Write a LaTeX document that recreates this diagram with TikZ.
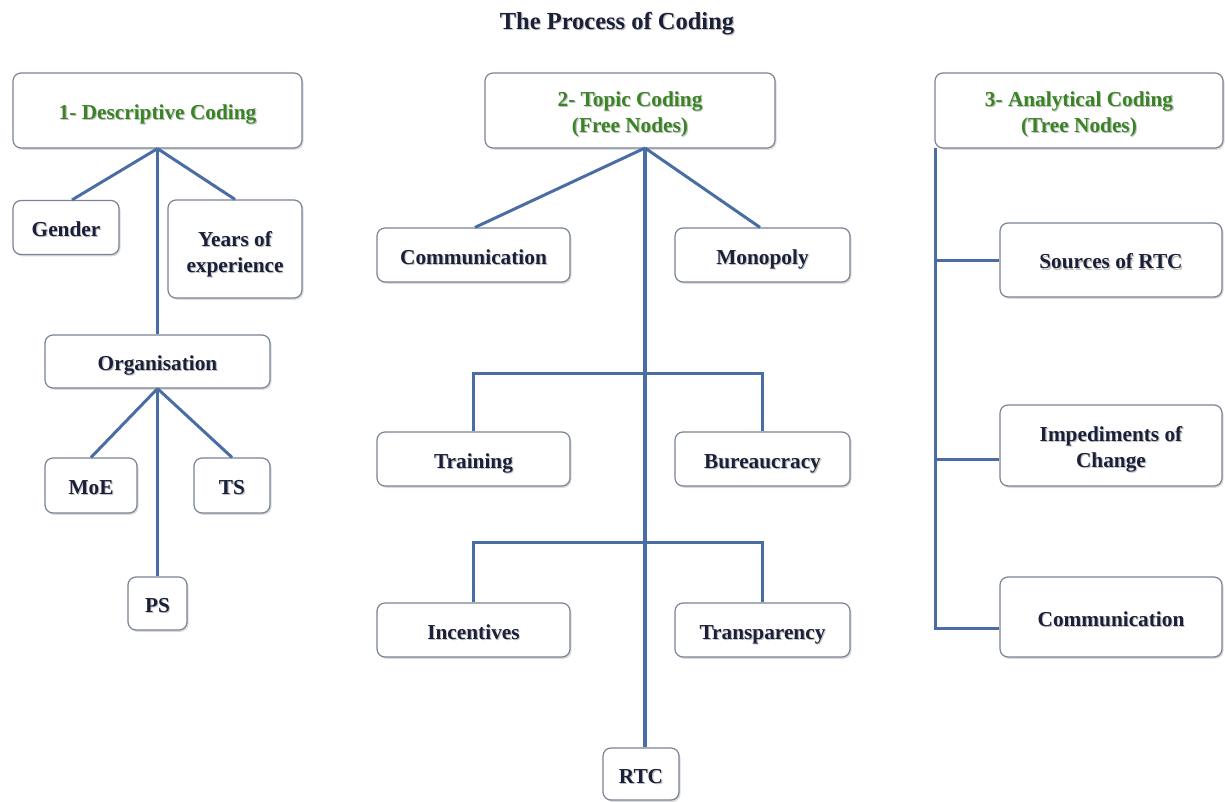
\documentclass[tikz,border=0pt]{standalone}
\usepackage{fontspec}
\setmainfont{Liberation Serif}[BoldFont={Liberation Serif Bold}]
\usetikzlibrary{shadows,calc}
\definecolor{txt}{RGB}{26,32,58}
\definecolor{hdr}{RGB}{58,132,38}
\definecolor{edge}{RGB}{122,132,148}
\definecolor{link}{RGB}{74,110,164}
% text with a soft grey shadow behind it
\newcommand{\sh}[1]{\leavevmode\rlap{\kern1.1pt\raisebox{-1.1pt}{\color{black!24}#1}}#1}
% several centred lines, drawn lower by the optional amount
\newcommand{\lines}[2][0pt]{\raisebox{#1}[\height][\depth]{\begin{tabular}{@{}c@{}}#2\end{tabular}}}
\tikzset{
  box/.style={draw=edge, line width=1.2pt, rounded corners=8pt, fill=white,
    align=center, inner sep=2pt, text=txt,
    font=\fontsize{21.3}{26}\selectfont\bfseries,
    drop shadow={shadow xshift=1.5pt, shadow yshift=-1.8pt, opacity=0.28, fill=gray}},
  oneline/.style={text height=20pt, text depth=2pt},
  head/.style={box, text=hdr},
  conn/.style={draw=link, line width=3pt},
  trunk/.style={draw=link, line width=4pt}
}
\begin{document}
\begin{tikzpicture}[x=1pt,y=-1pt]
\useasboundingbox (0,0) rectangle (1225,802);
\fill[white] (0,0) rectangle (1225,802);

\node[text=txt, font=\fontsize{24.5}{27}\selectfont\bfseries] (title) at (617,24) {\sh{The Process of Coding}};

% ---- 1: descriptive coding ----
\node[head, oneline, minimum width=289pt, minimum height=75pt] (desc) at (157.5,110.5) {\sh{1- Descriptive Coding}};
\node[box, oneline, minimum width=106pt, minimum height=54pt] (gender) at (66,227.5) {\sh{Gender}};
\node[box, minimum width=134pt, minimum height=98pt] (years) at (235,249) {\lines[-5pt]{\sh{Years of}\\\sh{experience}}};
\node[box, oneline, minimum width=225pt, minimum height=53pt] (org) at (157.5,361.5) {\sh{Organisation}};
\node[box, oneline, minimum width=92pt, minimum height=55pt] (moe) at (91,485.5) {\sh{MoE}};
\node[box, oneline, minimum width=76pt, minimum height=55pt] (ts) at (232,485.5) {\sh{TS}};
\node[box, oneline, minimum width=59pt, minimum height=53pt] (ps) at (157.5,603.5) {\sh{PS}};

\draw[conn] (desc.south) -- ($(gender.north)+(6,0)$);
\draw[conn] (desc.south) -- (years.north);
\draw[conn] (desc.south) -- (org.north);
\draw[conn] (org.south) -- (moe.north);
\draw[conn] (org.south) -- (ts.north);
\draw[conn] (org.south) -- (ps.north);

% ---- 2: topic coding ----
\node[head, minimum width=290pt, minimum height=75pt] (topic) at (630,110.5) {\lines[-4pt]{\sh{2- Topic Coding}\\\sh{(Free Nodes)}}};
\coordinate (tj) at (645,148);
\node[box, oneline, minimum width=193pt, minimum height=54pt] (comm) at (473.5,255) {\sh{Communication}};
\node[box, oneline, minimum width=175pt, minimum height=54pt] (mono) at (762.5,255) {\sh{Monopoly}};
\node[box, oneline, minimum width=193pt, minimum height=54pt] (train) at (473.5,459) {\sh{Training}};
\node[box, oneline, minimum width=175pt, minimum height=54pt] (bur) at (762.5,459) {\sh{Bureaucracy}};
\node[box, oneline, minimum width=193pt, minimum height=54pt] (inc) at (473.5,630) {\sh{Incentives}};
\node[box, oneline, minimum width=175pt, minimum height=54pt] (trans) at (762.5,630) {\sh{Transparency}};
\node[box, oneline, minimum width=76pt, minimum height=52pt] (rtc) at (641,774) {\sh{RTC}};
\coordinate (b1) at (645,373);
\coordinate (b2) at (645,542);

\draw[trunk] (tj) -- (tj |- rtc.north);
\draw[conn] (tj) -- ($(comm.north)+(1.5,0)$);
\draw[conn] (tj) -- ($(mono.north)+(-2.5,0)$);
\draw[conn] (train.north) |- (b1) -| (bur.north);
\draw[conn] (inc.north) |- (b2) -| (trans.north);

% ---- 3: analytical coding ----
\node[head, minimum width=288pt, minimum height=75pt] (anal) at (1079,110.5) {\lines[-4pt]{\sh{3- Analytical Coding}\\\sh{(Tree Nodes)}}};
\node[box, oneline, minimum width=222pt, minimum height=74pt] (src) at (1111,260) {\sh{Sources of RTC}};
\node[box, minimum width=222pt, minimum height=81pt] (imp) at (1111,445.5) {\lines[-4pt]{\sh{Impediments of}\\\sh{Change}}};
\node[box, oneline, minimum width=222pt, minimum height=80pt] (com3) at (1111,617) {\sh{Communication}};
\coordinate (aj) at (935,148);
\coordinate (ae) at (935,628);
\draw[conn] (aj) -- (ae) -- (ae -| com3.west);
\draw[conn] (aj |- src.west) -- (src.west);
\draw[conn] (aj |- 0,459) -- (imp.west |- 0,459);
\end{tikzpicture}
\end{document}
